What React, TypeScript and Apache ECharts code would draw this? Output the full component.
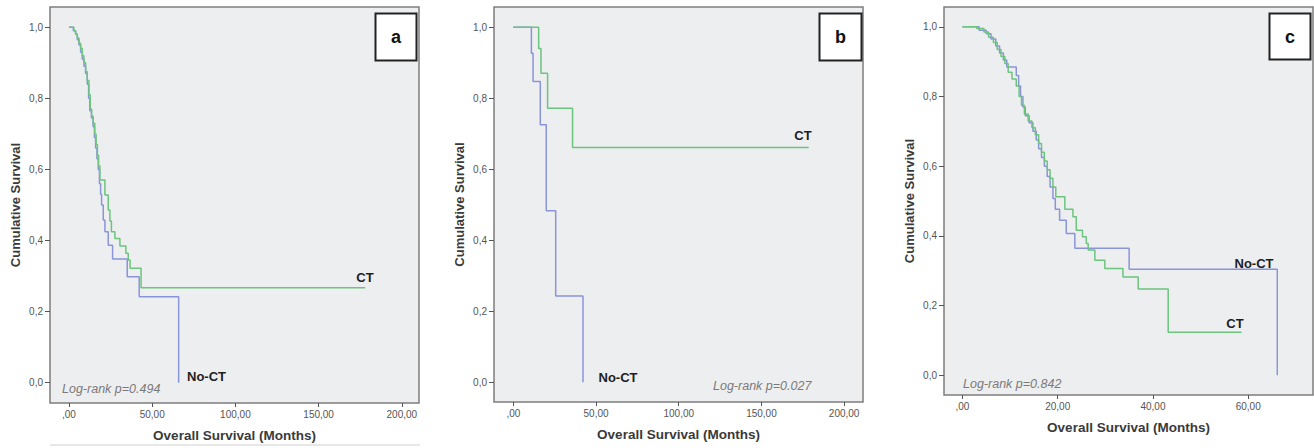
import React, { useEffect, useRef } from "react";
import * as echarts from "echarts";

// ---- Data (time in months, cumulative survival) ----
const aCT: [number, number][] = [
  [0, 1], [3, 0.99], [4, 0.98], [5, 0.97], [6, 0.955], [7, 0.94], [8, 0.92], [9, 0.9], [10, 0.875],
  [11, 0.85], [12, 0.81], [12.8, 0.77], [13.6, 0.75], [14.6, 0.73], [15.5, 0.7], [16.3, 0.67],
  [17.1, 0.64], [17.8, 0.61], [18.6, 0.57], [21.6, 0.528], [23.6, 0.486], [24.6, 0.455],
  [25.5, 0.425], [27.6, 0.406], [30.6, 0.385], [34.2, 0.364], [35.6, 0.345], [36.7, 0.322],
  [43.3, 0.267], [178, 0.267],
];
const aNoCT: [number, number][] = [
  [0, 1], [2.6, 0.99], [4, 0.98], [5, 0.965], [6, 0.95], [7, 0.93], [8, 0.91], [9, 0.89], [10, 0.87],
  [11, 0.84], [11.8, 0.8], [12.5, 0.765], [13.5, 0.745], [14.5, 0.72], [15.3, 0.69], [16, 0.66],
  [16.8, 0.63], [17.6, 0.6], [18.3, 0.56], [19, 0.53], [19.6, 0.5], [20.6, 0.458], [21.6, 0.425],
  [23.6, 0.387], [26.2, 0.348], [35, 0.298], [42.2, 0.242], [65.9, 0],
];
const bCT: [number, number][] = [
  [0, 1], [15.3, 0.94], [16.7, 0.87], [20.7, 0.772], [35.8, 0.661], [178.6, 0.661],
];
const bNoCT: [number, number][] = [
  [0, 1], [10.9, 0.927], [11.9, 0.847], [16.3, 0.725], [19.9, 0.483], [25.6, 0.243], [42.1, 0],
];
const cCT: [number, number][] = [
  [0, 1], [3, 0.995], [4.5, 0.985], [5.5, 0.97], [6.5, 0.955], [7.3, 0.935], [8.1, 0.915],
  [8.9, 0.895], [9.6, 0.87], [10.4, 0.85], [11.3, 0.83], [11.9, 0.8], [12.4, 0.775], [13, 0.75],
  [13.8, 0.73], [14.6, 0.71], [15.3, 0.69], [16, 0.665], [16.6, 0.64], [17.2, 0.615], [17.8, 0.59],
  [18.4, 0.565], [19, 0.54], [19.6, 0.512], [21.5, 0.476], [23.2, 0.455], [23.9, 0.416],
  [25.2, 0.397], [26, 0.378], [26.4, 0.359], [27.8, 0.33], [29.9, 0.306], [33.7, 0.282],
  [36.9, 0.247], [43.2, 0.123], [58.6, 0.123],
];
const cNoCT: [number, number][] = [
  [0, 1], [3.5, 0.99], [5, 0.98], [6, 0.965], [7, 0.945], [7.8, 0.925], [8.6, 0.905], [9.3, 0.885],
  [11.3, 0.86], [11.8, 0.83], [12.2, 0.8], [12.7, 0.77], [13.2, 0.745], [14, 0.725], [14.8, 0.7],
  [15.5, 0.675], [16, 0.65], [16.6, 0.625], [17.2, 0.6], [17.8, 0.57], [18.4, 0.54], [19, 0.507],
  [19.5, 0.476], [20.4, 0.445], [21.8, 0.407], [23.6, 0.364], [35, 0.304], [66.1, 0],
];

const yTicks = [0, 0.2, 0.4, 0.6, 0.8, 1.0];
const xTicksAB = [0, 50, 100, 150, 200];
const xTicksC = [0, 20, 40, 60];

const panelLetters = ["a", "b", "c"];
const pValues = ["Log-rank p=0.494", "Log-rank p=0.027", "Log-rank p=0.842"];
const groupNames = ["CT", "No-CT"];
const xTitle = "Overall Survival (Months)";
const yTitle = "Cumulative Survival";

const GREEN = "#6cc47d";
const BLUE = "#8a95d8";
const FONT = '"Liberation Sans", Arial, sans-serif';

const fmtX = (v: number) => (v === 0 ? ",00" : v.toFixed(2).replace(".", ","));
const fmtY = (v: number) => v.toFixed(1).replace(".", ",");

export default function App() {
  const ref = useRef<HTMLDivElement>(null);
  useEffect(() => {
    const chart = echarts.init(ref.current!, null, { renderer: "svg" });

    const grids = [
      { left: 50, top: 7, width: 369, height: 396 },
      { left: 494, top: 7, width: 369, height: 395 },
      { left: 944, top: 7, width: 369, height: 388 },
    ];
    const xRanges = [
      [-11.4, 210.3, xTicksAB],
      [-11.7, 211.4, xTicksAB],
      [-3.87, 73.6, xTicksC],
    ] as [number, number, number[]][];
    const yRanges = [
      [-0.057, 1.057],
      [-0.056, 1.057],
      [-0.057, 1.057],
    ];

    const option: any = {
      animation: false,
      backgroundColor: "#ffffff",
      textStyle: { fontFamily: FONT },
      grid: grids.map((g) => ({
        ...g,
        show: true,
        backgroundColor: "#edeef0",
        borderColor: "#7d7d7d",
        borderWidth: 1.5,
        containLabel: false,
      })),
      xAxis: xRanges.map(([mn, mx, ticks], i) => ({
        type: "value",
        gridIndex: i,
        position: "bottom",
        min: mn,
        max: mx,
        axisLine: { show: false, onZero: false },
        splitLine: { show: false },
        axisTick: { show: true, inside: false, length: 4, customValues: ticks, lineStyle: { color: "#555" } },
        axisLabel: { customValues: ticks, formatter: fmtX, color: "#555", fontSize: 10, margin: 6, fontFamily: FONT },
        name: xTitle,
        nameLocation: "middle",
        nameGap: 25,
        nameTextStyle: { fontSize: 13.5, fontWeight: "bold", color: "#3a3a3a", fontFamily: FONT },
      })),
      yAxis: yRanges.map(([mn, mx], i) => ({
        type: "value",
        gridIndex: i,
        position: "left",
        min: mn,
        max: mx,
        axisLine: { show: false, onZero: false },
        splitLine: { show: false },
        axisTick: { show: true, inside: false, length: 5, customValues: yTicks, lineStyle: { color: "#555" } },
        axisLabel: { customValues: yTicks, formatter: fmtY, color: "#555", fontSize: 10, margin: 7, fontFamily: FONT },
        name: yTitle,
        nameLocation: "middle",
        nameGap: 28,
        nameTextStyle: { fontSize: 13, fontWeight: "bold", color: "#3a3a3a", fontFamily: FONT },
      })),
      series: [
        [aNoCT, 0, BLUE, groupNames[1]],
        [aCT, 0, GREEN, groupNames[0]],
        [bNoCT, 1, BLUE, groupNames[1]],
        [bCT, 1, GREEN, groupNames[0]],
        [cNoCT, 2, BLUE, groupNames[1]],
        [cCT, 2, GREEN, groupNames[0]],
      ].map(([data, gi, color, name]: any) => ({
        type: "line",
        name,
        xAxisIndex: gi,
        yAxisIndex: gi,
        data,
        step: "end",
        symbol: "none",
        lineStyle: { color, width: 1.5 },
        silent: true,
      })),
      graphic: [
        // panel letter boxes
        ...[
          [375.5, 13.5, 41, 47],
          [819.5, 13.5, 42, 47],
          [1269.5, 13.5, 41, 46],
        ].flatMap(([x, y, w, h], i) => [
          { type: "rect", shape: { x, y, width: w, height: h }, style: { fill: "#ffffff", stroke: "#222", lineWidth: 2 }, z: 10 },
          {
            type: "text",
            x: x + w / 2,
            y: y + h / 2,
            style: { text: panelLetters[i], font: `bold 18px ${FONT}`, fill: "#111", textAlign: "center", textVerticalAlign: "middle" },
            z: 11,
          },
        ]),
        // group labels
        ...[
          [groupNames[0], 365, 277, "center"],
          [groupNames[1], 187, 376, "left"],
          [groupNames[0], 803, 135, "center"],
          [groupNames[1], 618, 377, "center"],
          [groupNames[1], 1254, 263, "center"],
          [groupNames[0], 1235, 323, "center"],
        ].map(([t, x, y, al]: any) => ({
          type: "text",
          x,
          y,
          style: { text: t, font: `bold 13px ${FONT}`, fill: "#1e1e1e", textAlign: al, textVerticalAlign: "middle" },
          z: 10,
        })),
        // log-rank texts
        ...[
          [pValues[0], 62, 389],
          [pValues[1], 713, 386],
          [pValues[2], 963, 384],
        ].map(([t, x, y]: any) => ({
          type: "text",
          x,
          y,
          style: { text: t, font: `italic 12.5px ${FONT}`, fill: "#7a7a7a", textAlign: "left", textVerticalAlign: "middle" },
          z: 10,
        })),
        { type: "line", shape: { x1: 50, y1: 445, x2: 420, y2: 445 }, style: { stroke: "#cfcfcf", lineWidth: 1 } },
      ],
    };
    chart.setOption(option);
    return () => chart.dispose();
  }, []);
  return (
    <div
      ref={ref}
      style={{ position: "fixed", left: 0, top: 0, width: 1314, height: 448, background: "#fff" }}
    />
  );
}
